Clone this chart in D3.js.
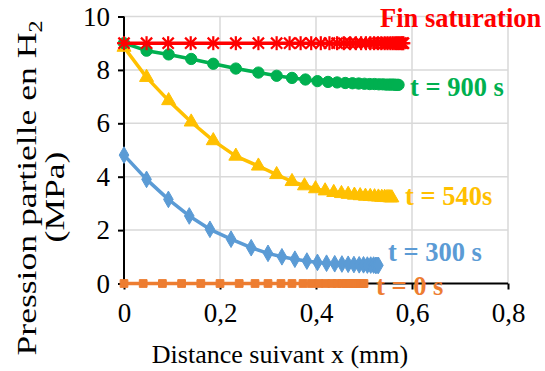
<!DOCTYPE html>
<html><head><meta charset="utf-8">
<script src="https://cdn.jsdelivr.net/npm/d3@7"></script>
<style>html,body{margin:0;padding:0;background:#fff}svg{display:block}text{font-family:"Liberation Serif","Times New Roman",serif}</style>
</head><body><svg id="c" width="545" height="371"></svg>
<script>
// ---- data ----
const xTicks = [0, 0.2, 0.4, 0.6, 0.8];
const xTickLabels = ["0", "0,2", "0,4", "0,6", "0,8"];
const yTicks = [0, 2, 4, 6, 8, 10];
const yTickLabels = ["0", "2", "4", "6", "8", "10"];

const t0X = [0, .04, .08, .12, .16, .20, .24, .273, .30, .327, .35, .373, .39, .406, .42, .433, .444, .454, .463, .471, .478, .484, .489, .493, .497, .5];
const t0Y = [0, 0, 0, 0, 0, 0, 0, 0, 0, 0, 0, 0, 0, 0, 0, 0, 0, 0, 0, 0, 0, 0, 0, 0, 0, 0];

const t300X = [0, .047, .0925, .136, .179, .223, .265, .30, .329, .356, .381, .403, .422, .439, .454, .467, .479, .49, .499, .507, .514, .52, .524, .527, .53];
const t300Y = [4.81, 3.90, 3.15, 2.53, 2.03, 1.66, 1.34, 1.13, 1.00, 0.91, 0.84, 0.79, 0.76, 0.74, 0.73, 0.72, 0.71, 0.70, 0.70, 0.69, 0.69, 0.69, 0.68, 0.68, 0.68];

const t540X = [0, .047, .093, .14, .186, .233, .28, .318, .35, .376, .399, .419, .437, .453, .467, .48, .492, .503, .513, .522, .53, .537, .543, .548, .552, .555, .558];
const t540Y = [8.85, 7.72, 6.85, 6.05, 5.35, 4.77, 4.4, 4.08, 3.82, 3.66, 3.55, 3.47, 3.41, 3.37, 3.34, 3.31, 3.29, 3.27, 3.26, 3.25, 3.24, 3.23, 3.23, 3.22, 3.22, 3.21, 3.21];

const t900X = [0, .047, .093, .14, .186, .233, .28, .318, .35, .378, .403, .425, .444, .461, .476, .489, .501, .512, .522, .531, .539, .546, .552, .557, .562, .566, .569, .572];
const t900Y = [9.0, 8.72, 8.58, 8.41, 8.23, 8.05, 7.9, 7.78, 7.7, 7.64, 7.58, 7.55, 7.53, 7.51, 7.5, 7.49, 7.48, 7.47, 7.47, 7.46, 7.46, 7.45, 7.45, 7.45, 7.45, 7.44, 7.44, 7.44];

const satX = [0, .047, .092, .139, .186, .233, .28, .318, .345, .368, .39, .41, .428, .444, .458, .471, .483, .494, .504, .513, .521, .529, .536, .543, .549, .555, .56, .565, .569, .573, .577, .58, .582];
const satY = [9, 9, 9, 9, 9, 9, 9, 9, 9, 9, 9, 9, 9, 9, 9, 9, 9, 9, 9, 9, 9, 9, 9, 9, 9, 9, 9, 9, 9, 9, 9, 9, 9];

const seriesNames = ["t = 0 s", "t = 300 s", "t = 540s", "t = 900 s", "Fin saturation"];
const seriesColors = ["#ED7D31", "#5B9BD5", "#FFC000", "#00B050", "#FF0000"];
const seriesMarkers = ["square", "diamond", "triangle", "circle", "asterisk"];

// ---- layout ----
const svg = d3.select("#c");
const x = d3.scaleLinear().domain([0, 0.8]).range([124, 508]);
const y = d3.scaleLinear().domain([0, 10]).range([283.5, 16.5]);

// gridlines
svg.append("g").selectAll("line.h").data(yTicks.filter(d => d > 0)).join("line")
  .attr("x1", x(0)).attr("x2", x(0.8)).attr("y1", d => y(d)).attr("y2", d => y(d))
  .attr("stroke", "#D9D9D9").attr("stroke-width", 1.5);
svg.append("g").selectAll("line.v").data(xTicks.filter(d => d > 0)).join("line")
  .attr("x1", d => x(d)).attr("x2", d => x(d)).attr("y1", y(0)).attr("y2", y(10))
  .attr("stroke", "#D9D9D9").attr("stroke-width", 1.5);

// axes
const yAxis = d3.axisLeft(y).tickValues(yTicks).tickFormat((d, i) => yTickLabels[i]).tickSize(6).tickPadding(8);
const gy = svg.append("g").attr("transform", `translate(${x(0)},0)`).call(yAxis);
const xAxis = d3.axisBottom(x).tickValues(xTicks).tickFormat((d, i) => xTickLabels[i]).tickSize(6).tickPadding(13);
const gx = svg.append("g").attr("transform", `translate(0,${y(0)})`).call(xAxis);
[gy, gx].forEach(g => {
  g.select(".domain").attr("stroke", "#000").attr("stroke-width", 2);
  g.selectAll(".tick line").attr("stroke", "#000").attr("stroke-width", 2);
  g.selectAll(".tick text").attr("font-family", "Liberation Serif").attr("font-size", 27).attr("fill", "#000");
});
gy.select(".domain").attr("d", `M0,${y(10)}V${y(0)}`);
gx.select(".domain").attr("d", `M${x(0)},0H${x(0.8)}`);

// series
const seriesData = [[t0X, t0Y], [t300X, t300Y], [t540X, t540Y], [t900X, t900Y], [satX, satY]];
const line = d3.line().x(d => x(d[0])).y(d => y(d[1]));
const sym = {
  square: d3.symbol(d3.symbolSquare, 60),
  diamond: d3.symbol(d3.symbolDiamond, 80),
  triangle: d3.symbol(d3.symbolTriangle, 85),
  circle: d3.symbol(d3.symbolCircle, 100)
};
seriesData.forEach(([xs, ys], i) => {
  const pts = xs.map((v, j) => [v, ys[j]]);
  const col = seriesColors[i];
  const g = svg.append("g");
  g.append("path").attr("d", line(pts)).attr("fill", "none").attr("stroke", col).attr("stroke-width", 3.5).attr("stroke-linejoin", "round");
  const m = seriesMarkers[i];
  if (m === "asterisk") {
    const r = 7;
    const mg = g.selectAll("g.m").data(pts).join("g").attr("transform", d => `translate(${x(d[0])},${y(d[1])})`);
    [[0, -r, 0, r], [-r, 0, r, 0], [-r * .8, -r * .8, r * .8, r * .8], [-r * .8, r * .8, r * .8, -r * .8]].forEach(c => {
      mg.append("line").attr("x1", c[0]).attr("y1", c[1]).attr("x2", c[2]).attr("y2", c[3]).attr("stroke", col).attr("stroke-width", 2.2);
    });
  } else {
    g.selectAll("path.m").data(pts).join("path").attr("class", "m")
      .attr("transform", d => `translate(${x(d[0])},${y(d[1])})`)
      .attr("d", sym[m]()).attr("fill", col).attr("stroke", col).attr("stroke-width", 1);
  }
});

// series labels
const labelPos = [[376, 295], [388, 261], [405, 205], [410, 96], [380, 27]];
seriesNames.forEach((n, i) => {
  svg.append("text").attr("x", labelPos[i][0]).attr("y", labelPos[i][1])
    .attr("font-size", 26.5).attr("font-weight", "bold").attr("fill", seriesColors[i]).text(n);
});

// axis titles
svg.append("text").attr("x", 280).attr("y", 363).attr("text-anchor", "middle").attr("font-size", 26).text("Distance suivant x (mm)");
const yt = svg.append("text").attr("transform", "translate(36,188) rotate(-90) scale(1.27,1)").attr("text-anchor", "middle").attr("font-size", 28);
yt.append("tspan").text("Pression partielle en H");
yt.append("tspan").attr("font-size", 19).attr("dy", 6).text("2");
svg.append("text").attr("transform", "translate(64,197) rotate(-90) scale(1.27,1)").attr("text-anchor", "middle").attr("font-size", 28).text("(MPa)");
</script></body></html>
